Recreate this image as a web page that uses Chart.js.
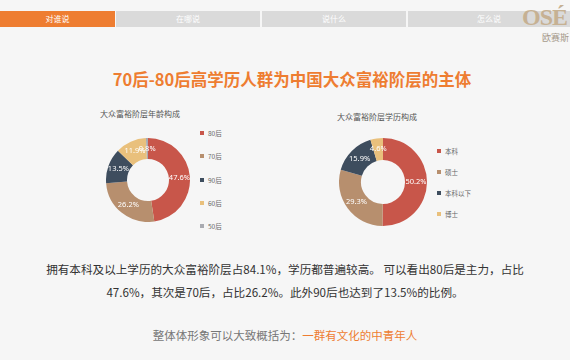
<!DOCTYPE html>
<html>
<head>
<meta charset="utf-8">
<script src="https://cdn.jsdelivr.net/npm/chart.js@4"></script>
<style>
  body { margin: 0; background: #f6f6f6; font-family: "Noto Sans CJK SC", "Noto Sans", sans-serif; }
  #page { position: relative; width: 570px; height: 360px; overflow: hidden; background: #f6f6f6; }
  .tab { position: absolute; top: 11px; height: 16px; line-height: 16px; font-size: 8px; color: #fff; text-align: center; background: #dadada; }
  .tab.on { background: #ee7d31; }
  .logo { position: absolute; left: 522px; top: 6px; height: 22px; line-height: 22px; font-family: "Liberation Serif", serif; font-size: 24px; font-weight: bold; color: #c6b193; letter-spacing: -1px; white-space: nowrap; }
  .logo2 { position: absolute; left: 542px; top: 33px; line-height: 10px; font-size: 9px; color: #a69a8c; white-space: nowrap; }
  h1 { position: absolute; left: 14px; width: 556px; top: 67px; margin: 0; text-align: center; font-size: 16.5px; font-weight: bold; color: #ee7d31; }
  .ctitle { position: absolute; font-size: 8px; color: #555; }
  .canvas-wrap { position: absolute; }
  .legend { position: absolute; font-size: 6.5px; color: #666; }
  .legend div { position: absolute; white-space: nowrap; }
  .legend span { display: inline-block; width: 4px; height: 4px; margin-right: 4px; vertical-align: 1px; }
  .txt { position: absolute; left: 0; width: 570px; text-align: center; font-size: 11.6px; color: #333; line-height: 23px; }
  .sum { position: absolute; left: 0; width: 570px; top: 327px; text-align: center; font-size: 11.5px; color: #777; }
  .sum b { font-weight: normal; color: #ee7d31; }
</style>
</head>
<body>
<div id="page">
  <div class="tab on" style="left:0;width:115px">对谁说</div>
  <div class="tab" style="left:116px;width:144px">在哪说</div>
  <div class="tab" style="left:262px;width:144px">说什么</div>
  <div class="tab" style="left:408px;width:162px">怎么说</div>
  <div class="logo">OSÉ</div>
  <div class="logo2">欧赛斯</div>

  <h1>70后-80后高学历人群为中国大众富裕阶层的主体</h1>

  <div class="ctitle" style="left:100px;top:108px">大众富裕阶层年龄构成</div>
  <div class="canvas-wrap" style="left:106px;top:138px;width:84px;height:84px"><canvas id="c1"></canvas></div>
  <div class="legend" id="l1" style="left:200px;top:128px"></div>

  <div class="ctitle" style="left:337px;top:111px">大众富裕阶层学历构成</div>
  <div class="canvas-wrap" style="left:339px;top:138px;width:88px;height:88px"><canvas id="c2"></canvas></div>
  <div class="legend" id="l2" style="left:437px;top:146px"></div>

  <div class="txt" style="top:258px">拥有本科及以上学历的大众富裕阶层占84.1%，学历都普遍较高。 可以看出80后是主力，占比<br>47.6%，其次是70后，占比26.2%。此外90后也达到了13.5%的比例。</div>
  <div class="sum">整体体形象可以大致概括为：<b>一群有文化的中青年人</b></div>
</div>
<script>
// 年龄构成
const ageLabels = ['80后', '70后', '90后', '60后', '50后'];
const ageValues = [47.6, 26.2, 13.5, 11.9, 0.8];
const ageColors = ['#c8564a', '#b78f6e', '#3e4d5e', '#e9c07c', '#a9abb1'];

// 学历构成
const eduLabels = ['本科', '硕士', '本科以下', '博士'];
const eduValues = [50.2, 29.3, 15.9, 4.6];
const eduColors = ['#c8564a', '#b78f6e', '#3e4d5e', '#e9c07c'];

// draws the percentage in the middle of each arc
const arcLabels = {
  id: 'arcLabels',
  afterDatasetsDraw(chart) {
    const ctx = chart.ctx;
    const meta = chart.getDatasetMeta(0);
    ctx.save();
    ctx.fillStyle = '#fff';
    ctx.font = '7.5px "Noto Sans", sans-serif';
    ctx.textAlign = 'center';
    ctx.textBaseline = 'middle';
    meta.data.forEach((arc, i) => {
      const p = arc.tooltipPosition();
      ctx.fillText(chart.data.datasets[0].data[i].toFixed(1) + '%', p.x, p.y);
    });
    ctx.restore();
  }
};

function makeDonut(id, labels, values, colors) {
  return new Chart(document.getElementById(id), {
    type: 'doughnut',
    data: {
      labels: labels,
      datasets: [{
        data: values,
        backgroundColor: colors,
        borderWidth: 0,
        hoverOffset: 0
      }]
    },
    options: {
      responsive: true,
      maintainAspectRatio: false,
      animation: false,
      cutout: '50%',
      layout: { padding: 0 },
      plugins: { legend: { display: false }, tooltip: { enabled: false } }
    },
    plugins: [arcLabels]
  });
}

function makeLegend(id, labels, colors, step) {
  const el = document.getElementById(id);
  labels.forEach((t, i) => {
    const d = document.createElement('div');
    d.style.top = (i * step) + 'px';
    d.innerHTML = '<span style="background:' + colors[i] + '"></span>' + t;
    el.appendChild(d);
  });
}

makeDonut('c1', ageLabels, ageValues, ageColors);
makeDonut('c2', eduLabels, eduValues, eduColors);
makeLegend('l1', ageLabels, ageColors, 23.3);
makeLegend('l2', eduLabels, eduColors, 21);
</script>
</body>
</html>
